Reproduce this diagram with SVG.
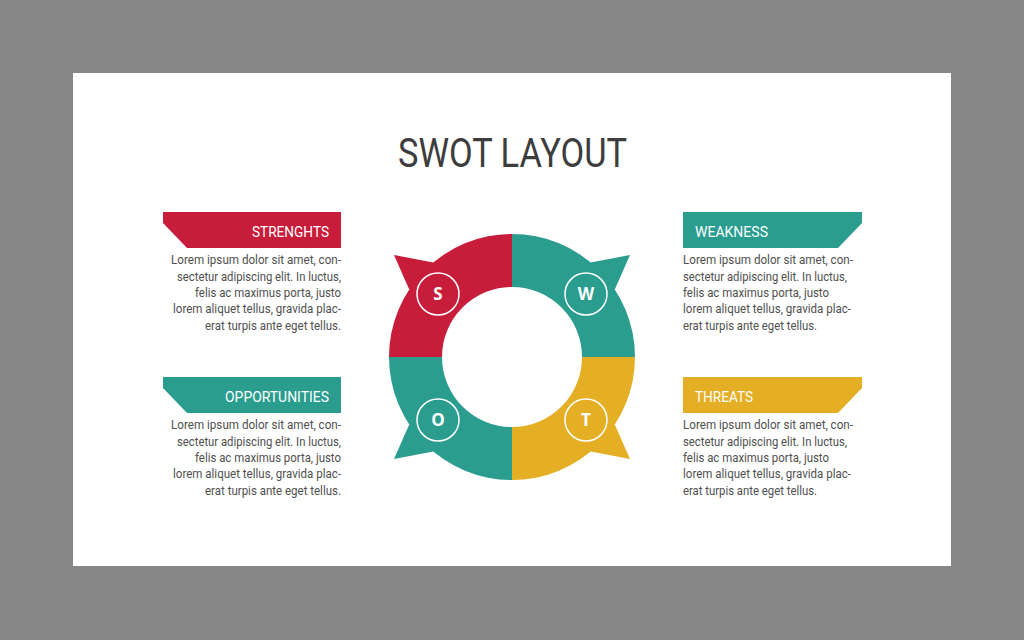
<svg xmlns="http://www.w3.org/2000/svg" width="1024" height="640" viewBox="0 0 1024 640">
  <style>
    .title { font-family: Roboto, "Liberation Sans", sans-serif; font-size: 40px; fill: #3d3d3d; }
    .lbl { font-family: Roboto, "Liberation Sans", sans-serif; font-size: 15px; fill: #ffffff; }
    .body { font-family: Roboto, "Liberation Sans", sans-serif; font-size: 13.5px; fill: #505050; }
    .badge { fill: none; stroke: #ffffff; stroke-width: 1.5; }
    .letter { font-family: "Open Sans", "Liberation Sans", sans-serif; font-size: 17px; font-weight: bold; fill: #ffffff; text-anchor: middle; }
    .red { fill: #c81c3b; }
    .teal { fill: #2a9d8f; }
    .yellow { fill: #e4ae25; }
  </style>
  <rect x="0" y="0" width="1024" height="640" fill="#878787"/>
  <rect x="73" y="73" width="878" height="493" fill="#ffffff"/>

  <g id="title">
    <text class="title" x="398" y="167" textLength="229" lengthAdjust="spacingAndGlyphs">SWOT LAYOUT</text>
  </g>

  <g id="ring-s">
    <path class="red" d="M389,357 A123,123 0 0 1 512,234 L512,287 A70,70 0 0 0 442,357 Z"/>
    <polygon class="red" points="394,255 433.4,262.5 430,285 409,289"/>
    <circle class="badge" cx="438" cy="294" r="21"/>
    <text class="letter" x="438" y="300">S</text>
  </g>
  <g id="ring-w">
    <path class="teal" d="M512,234 A123,123 0 0 1 635,357 L582,357 A70,70 0 0 0 512,287 Z"/>
    <polygon class="teal" points="630,255 590.6,262.5 594,285 615,289"/>
    <circle class="badge" cx="586" cy="294" r="21"/>
    <text class="letter" x="586" y="300">W</text>
  </g>
  <g id="ring-o">
    <path class="teal" d="M389,357 L442,357 A70,70 0 0 0 512,427 L512,480 A123,123 0 0 1 389,357 Z"/>
    <polygon class="teal" points="394,459 433.4,451.5 430,429 409,425"/>
    <circle class="badge" cx="438" cy="420" r="21"/>
    <text class="letter" x="438" y="426">O</text>
  </g>
  <g id="ring-t">
    <path class="yellow" d="M635,357 A123,123 0 0 1 512,480 L512,427 A70,70 0 0 0 582,357 Z"/>
    <polygon class="yellow" points="630,459 590.6,451.5 594,429 615,425"/>
    <circle class="badge" cx="586" cy="420" r="21"/>
    <text class="letter" x="586" y="426">T</text>
  </g>

  <g id="strengths">
    <polygon class="red" points="163,212 341,212 341,248 187,248 163,223"/>
    <text class="lbl" x="329" y="237" text-anchor="end" textLength="77" lengthAdjust="spacingAndGlyphs">STRENGHTS</text>
    <g class="body" text-anchor="end">
      <text x="341" y="264" textLength="170" lengthAdjust="spacingAndGlyphs">Lorem ipsum dolor sit amet, con-</text>
      <text x="341" y="281" textLength="164" lengthAdjust="spacingAndGlyphs">sectetur adipiscing elit. In luctus,</text>
      <text x="341" y="297" textLength="146" lengthAdjust="spacingAndGlyphs">felis ac maximus porta, justo</text>
      <text x="341" y="313" textLength="168" lengthAdjust="spacingAndGlyphs">lorem aliquet tellus, gravida plac-</text>
      <text x="341" y="330" textLength="136" lengthAdjust="spacingAndGlyphs">erat turpis ante eget tellus.</text>
    </g>
  </g>

  <g id="opportunities">
    <polygon class="teal" points="163,377 341,377 341,413 187,413 163,388"/>
    <text class="lbl" x="329" y="402" text-anchor="end" textLength="104" lengthAdjust="spacingAndGlyphs">OPPORTUNITIES</text>
    <g class="body" text-anchor="end">
      <text x="341" y="429" textLength="170" lengthAdjust="spacingAndGlyphs">Lorem ipsum dolor sit amet, con-</text>
      <text x="341" y="446" textLength="164" lengthAdjust="spacingAndGlyphs">sectetur adipiscing elit. In luctus,</text>
      <text x="341" y="462" textLength="146" lengthAdjust="spacingAndGlyphs">felis ac maximus porta, justo</text>
      <text x="341" y="478" textLength="168" lengthAdjust="spacingAndGlyphs">lorem aliquet tellus, gravida plac-</text>
      <text x="341" y="495" textLength="136" lengthAdjust="spacingAndGlyphs">erat turpis ante eget tellus.</text>
    </g>
  </g>

  <g id="weakness">
    <polygon class="teal" points="683,212 862,212 862,223 838,248 683,248"/>
    <text class="lbl" x="695" y="237" textLength="73" lengthAdjust="spacingAndGlyphs">WEAKNESS</text>
    <g class="body">
      <text x="683" y="264" textLength="170" lengthAdjust="spacingAndGlyphs">Lorem ipsum dolor sit amet, con-</text>
      <text x="683" y="281" textLength="164" lengthAdjust="spacingAndGlyphs">sectetur adipiscing elit. In luctus,</text>
      <text x="683" y="297" textLength="146" lengthAdjust="spacingAndGlyphs">felis ac maximus porta, justo</text>
      <text x="683" y="313" textLength="168" lengthAdjust="spacingAndGlyphs">lorem aliquet tellus, gravida plac-</text>
      <text x="683" y="330" textLength="134" lengthAdjust="spacingAndGlyphs">erat turpis ante eget tellus.</text>
    </g>
  </g>

  <g id="threats">
    <polygon class="yellow" points="683,377 862,377 862,388 838,413 683,413"/>
    <text class="lbl" x="695" y="402" textLength="58" lengthAdjust="spacingAndGlyphs">THREATS</text>
    <g class="body">
      <text x="683" y="429" textLength="170" lengthAdjust="spacingAndGlyphs">Lorem ipsum dolor sit amet, con-</text>
      <text x="683" y="446" textLength="164" lengthAdjust="spacingAndGlyphs">sectetur adipiscing elit. In luctus,</text>
      <text x="683" y="462" textLength="146" lengthAdjust="spacingAndGlyphs">felis ac maximus porta, justo</text>
      <text x="683" y="478" textLength="168" lengthAdjust="spacingAndGlyphs">lorem aliquet tellus, gravida plac-</text>
      <text x="683" y="495" textLength="134" lengthAdjust="spacingAndGlyphs">erat turpis ante eget tellus.</text>
    </g>
  </g>

  <g id="connectors"></g>
</svg>
